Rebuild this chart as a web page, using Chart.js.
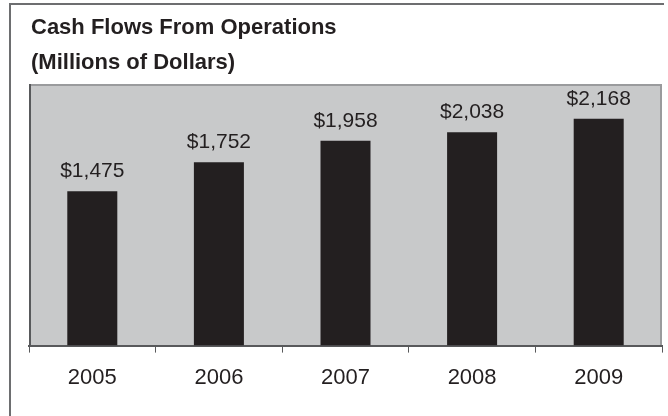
<!DOCTYPE html>
<html>
<head>
<meta charset="utf-8">
<script src="https://cdn.jsdelivr.net/npm/chart.js@4.4.0/dist/chart.umd.min.js"></script>
<style>
  body { margin: 0; background: #fff; }
  #wrap { width: 668px; height: 416px; position: relative; }
</style>
</head>
<body>
<div id="wrap"><canvas id="cash-chart"></canvas></div>
<script>
// chart data
const years = ['2005', '2006', '2007', '2008', '2009'];
const cashFlows = [1475, 1752, 1958, 2038, 2168];
const titleLines = ['Cash Flows From Operations', '(Millions of Dollars)'];

function dollars(v) {
  return '$' + v.toLocaleString('en-US');
}

// frame, gray plot background, title
const backdrop = {
  id: 'backdrop',
  beforeDraw(chart) {
    const ctx = chart.ctx;
    const a = chart.chartArea;
    ctx.save();
    // outer frame (top + left only)
    ctx.strokeStyle = '#6d6e70';
    ctx.lineWidth = 2;
    ctx.beginPath();
    ctx.moveTo(10, 416);
    ctx.lineTo(10, 4);
    ctx.lineTo(664, 4);
    ctx.stroke();
    // plot background
    ctx.fillStyle = '#c8c9ca';
    ctx.fillRect(a.left, a.top, a.right - a.left, a.bottom - a.top);
    ctx.strokeStyle = '#9a9b9d';
    ctx.lineWidth = 2;
    ctx.beginPath();
    ctx.moveTo(a.left, a.top + 1);
    ctx.lineTo(a.right - 1, a.top + 1);
    ctx.lineTo(a.right - 1, a.bottom);
    ctx.stroke();
    ctx.strokeStyle = '#58595b';
    ctx.beginPath();
    ctx.moveTo(a.left + 1, a.top);
    ctx.lineTo(a.left + 1, a.bottom);
    ctx.stroke();
    // title
    ctx.fillStyle = '#231f20';
    ctx.font = 'bold 22px "Liberation Sans", Arial, sans-serif';
    ctx.textAlign = 'left';
    ctx.textBaseline = 'alphabetic';
    ctx.fillText(titleLines[0], 31, 34);
    ctx.fillText(titleLines[1], 31, 69);
    ctx.restore();
  }
};

// value labels above bars
const valueLabels = {
  id: 'valueLabels',
  afterDatasetsDraw(chart) {
    const ctx = chart.ctx;
    const meta = chart.getDatasetMeta(0);
    ctx.save();
    ctx.fillStyle = '#231f20';
    ctx.font = '21px "Liberation Sans", Arial, sans-serif';
    ctx.textAlign = 'center';
    ctx.textBaseline = 'alphabetic';
    meta.data.forEach(function (bar, i) {
      ctx.fillText(dollars(cashFlows[i]), bar.x, bar.y - 14);
    });
    ctx.restore();
  }
};

new Chart(document.getElementById('cash-chart'), {
  type: 'bar',
  data: {
    labels: years,
    datasets: [{
      data: cashFlows,
      backgroundColor: '#231f20',
      borderWidth: 0,
      categoryPercentage: 1,
      barPercentage: 0.395
    }]
  },
  options: {
    responsive: true,
    maintainAspectRatio: false,
    animation: false,
    layout: { padding: { left: 29, right: 6, top: 84, bottom: 13 } },
    plugins: {
      legend: { display: false },
      tooltip: { enabled: false }
    },
    scales: {
      x: {
        grid: {
          offset: true,
          drawOnChartArea: false,
          drawTicks: true,
          tickLength: 7,
          color: '#58595b'
        },
        border: { display: true, color: '#58595b', width: 2 },
        ticks: {
          color: '#231f20',
          padding: 12,
          font: { family: '"Liberation Sans", Arial, sans-serif', size: 22 }
        }
      },
      y: {
        display: false,
        min: 0,
        max: 2500
      }
    }
  },
  plugins: [backdrop, valueLabels]
});
</script>
</body>
</html>
